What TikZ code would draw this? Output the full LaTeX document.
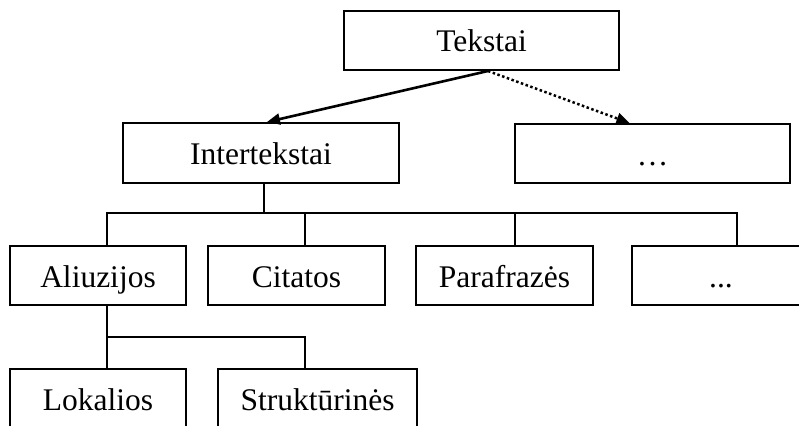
\documentclass[tikz,border=0pt]{standalone}
\usepackage{fontspec}
\setmainfont{Liberation Serif}
\usetikzlibrary{arrows.meta}
\tikzset{
  box/.style={draw, line width=2pt, rectangle, inner sep=0pt, minimum height=59pt,
    text height=23pt, text depth=0pt, font=\fontsize{31.5}{36}\selectfont},
  conn/.style={line width=1.8pt},
  arr/.style={line width=2.6pt, -{Triangle[length=13pt,width=11pt]}},
  darr/.style={line width=2.5pt, dash pattern=on 2.5pt off 2.5pt, -{Triangle[length=13pt,width=11pt]}}
}
\begin{document}
\begin{tikzpicture}[x=1pt,y=-1pt]
\useasboundingbox (0,0) rectangle (799,425);
\clip (0,0) rectangle (799,425);
\node[box, minimum width=275pt] (tek) at (481.5,40.5) {Tekstai};
\node[box, minimum width=276pt, minimum height=60pt] (inter) at (261,153) {Intertekstai};
\node[box, minimum width=275pt] (dotsa) at (652.5,153.5) {…};
\node[box, minimum width=176pt] (ali) at (98,275.5) {Aliuzijos};
\node[box, minimum width=177pt] (cit) at (296.5,275.5) {Citatos};
\node[box, minimum width=177pt] (par) at (504.5,275.5) {Parafrazės};
\node[box, minimum width=178pt] (dotsb) at (721,275.5) {...};
\node[box, minimum width=176pt] (lok) at (98,398.5) {Lokalios};
\node[box, minimum width=199pt] (str) at (317.5,398.5) {Struktūrinės};
\draw[arr] ([xshift=6.5pt]tek.south) -- ([xshift=6pt]inter.north);
\draw[darr] ([xshift=6.5pt]tek.south) -- ([xshift=-23pt]dotsa.north);
\coordinate (busa) at (264,213);
\draw[conn] ([xshift=3pt]inter.south) -- (busa);
\draw[conn] (busa) -| ([xshift=9pt]ali.north);
\draw[conn] (busa) -| ([xshift=8.5pt]cit.north);
\draw[conn] (busa) -| ([xshift=10.5pt]par.north);
\draw[conn] (busa) -| ([xshift=16pt]dotsb.north);
\coordinate (busb) at (107,337);
\draw[conn] ([xshift=9pt]ali.south) -- (busb);
\draw[conn] (busb) -| ([xshift=9pt]lok.north);
\draw[conn] (busb) -| ([xshift=-12.5pt]str.north);
\end{tikzpicture}
\end{document}
